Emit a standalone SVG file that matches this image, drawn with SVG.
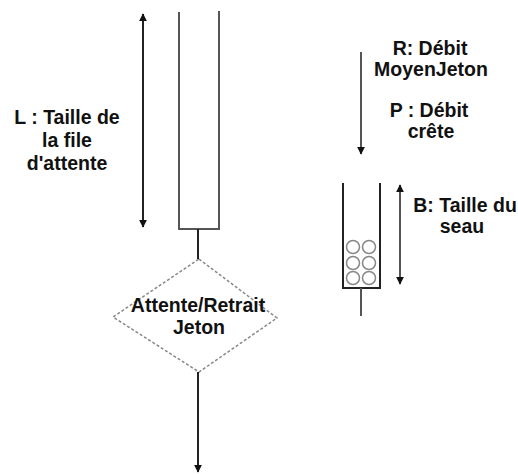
<svg xmlns="http://www.w3.org/2000/svg" width="518" height="475" viewBox="0 0 518 475">
<style>
.ln{stroke:#222;stroke-width:2;fill:none}
.lg{stroke:#555;stroke-width:2;fill:none}
.t{font-family:"Liberation Sans",Arial,sans-serif;font-weight:bold;font-size:19.5px;fill:#111;text-anchor:middle}
.ball{fill:#fff;stroke:#888;stroke-width:1.5}
</style>
<defs>
<marker id="ah" viewBox="0 0 10 10" refX="9" refY="5" markerWidth="4" markerHeight="4" orient="auto-start-reverse" markerUnits="strokeWidth">
<path d="M0,0 L10,5 L0,10 z" fill="#111"/>
</marker>
</defs>
<rect width="518" height="475" fill="#fff"/>
<g id="queue">
<path class="lg" d="M179,12 V229 H219 V11"/>
</g>
<g id="bucket">
<path class="ln" d="M343,183 V288 H380 V183"/>
<circle class="ball" cx="353" cy="247" r="6.5"/>
<circle class="ball" cx="369" cy="247" r="6.5"/>
<circle class="ball" cx="353" cy="263" r="6.5"/>
<circle class="ball" cx="369" cy="263" r="6.5"/>
<circle class="ball" cx="353" cy="278" r="6.5"/>
<circle class="ball" cx="369" cy="278" r="6.5"/>
</g>
<g id="decision">
<polygon points="199,259 277,318 199,372 113,317" fill="#fff" stroke="#888" stroke-width="1.5" stroke-dasharray="3,2"/>
<text class="t" x="198" y="312">Attente/Retrait</text>
<text class="t" x="199" y="334">Jeton</text>
</g>
<g id="labels">
<text class="t" x="67" y="124">L : Taille de</text>
<text class="t" x="67" y="147">la file</text>
<text class="t" x="67" y="170">d'attente</text>
<text class="t" x="430" y="55">R: Débit</text>
<text class="t" x="431" y="76">MoyenJeton</text>
<text class="t" x="429" y="117">P : Débit</text>
<text class="t" x="431" y="138">crête</text>
<text class="t" x="465" y="212">B: Taille du</text>
<text class="t" x="462" y="233">seau</text>
</g>
<g id="connectors">
<line class="ln" x1="143" y1="14" x2="143" y2="227" marker-start="url(#ah)" marker-end="url(#ah)"/>
<line class="ln" x1="198" y1="229" x2="198" y2="259"/>
<line class="ln" x1="198" y1="372" x2="198" y2="472" marker-end="url(#ah)"/>
<line class="lg" x1="361" y1="52" x2="361" y2="154" marker-end="url(#ah)"/>
<line class="lg" x1="400" y1="185" x2="400" y2="284" marker-start="url(#ah)" marker-end="url(#ah)"/>
<line class="lg" x1="361" y1="288" x2="361" y2="316"/>
</g>
</svg>
